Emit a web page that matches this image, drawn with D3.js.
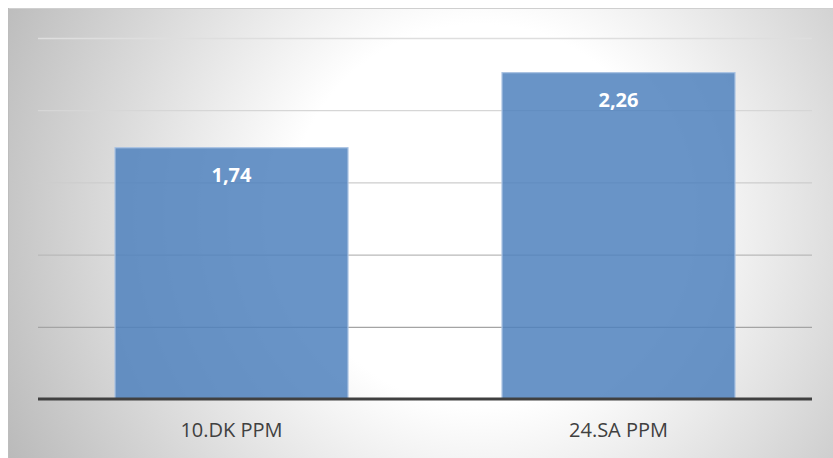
<!DOCTYPE html>
<html>
<head>
<meta charset="utf-8">
<script src="https://cdn.jsdelivr.net/npm/d3@7"></script>
<style>
  html, body { margin: 0; padding: 0; background: #ffffff; overflow: hidden; }
  svg { display: block; }
</style>
</head>
<body>
<svg id="chart" width="833" height="458"></svg>
<script>
// ---- data ----
const categories = ["10.DK PPM", "24.SA PPM"];
const values = [1.74, 2.26];
const valueLabels = ["1,74", "2,26"];
const gridTicks = [0.5, 1.0, 1.5, 2.0, 2.5];
const yDomain = [0, 2.5];

// ---- layout ----
const W = 833, H = 458;
const plot = { left: 38, right: 812, top: 38, bottom: 399 };

const svg = d3.select("#chart");
const defs = svg.append("defs");

// background radial gradient
const bg = defs.append("radialGradient")
  .attr("id", "bgGrad")
  .attr("gradientUnits", "userSpaceOnUse")
  .attr("cx", 480).attr("cy", 215).attr("r", 530);
bg.append("stop").attr("offset", 0).attr("stop-color", "#ffffff");
bg.append("stop").attr("offset", 0.36).attr("stop-color", "#ffffff");
bg.append("stop").attr("offset", 1).attr("stop-color", "#bababa");

// chart area background
svg.append("rect")
  .attr("x", 8).attr("y", 8)
  .attr("width", W).attr("height", H)
  .attr("fill", "url(#bgGrad)");
svg.append("line")
  .attr("x1", 8).attr("x2", W).attr("y1", 8.5).attr("y2", 8.5)
  .attr("stroke", "#cfcfcf").attr("stroke-width", 1);
svg.append("line")
  .attr("x1", 8.5).attr("x2", 8.5).attr("y1", 8).attr("y2", H)
  .attr("stroke", "#bdbdbd").attr("stroke-width", 1);

// scales
const x = d3.scaleBand()
  .domain(categories)
  .range([plot.left, plot.right])
  .paddingInner(0.398)
  .paddingOuter(0.199);

const y = d3.scaleLinear()
  .domain(yDomain)
  .range([plot.bottom, plot.top]);

// gridline colour: lighter near the top, darker near the bottom
const gridColor = d3.scaleLinear()
  .domain([0.5, 1.5, 2.5])
  .range(["#a4a4a4", "#cdcdcd", "#dedede"]);

// gridlines
const grid = svg.append("g")
  .attr("transform", `translate(${plot.left},0)`)
  .call(d3.axisLeft(y)
    .tickValues(gridTicks)
    .tickSize(-(plot.right - plot.left))
    .tickFormat(""));
grid.select(".domain").remove();
grid.selectAll(".tick line")
  .attr("stroke", d => gridColor(d))
  .attr("stroke-width", 1.3);

// bars
svg.append("g").selectAll("rect")
  .data(values)
  .join("rect")
  .attr("x", (d, i) => x(categories[i]))
  .attr("y", d => y(d))
  .attr("width", x.bandwidth())
  .attr("height", d => y(0) - y(d))
  .attr("fill", "#4f81bd")
  .attr("fill-opacity", 0.85)
  .attr("stroke", "#a9c2e2")
  .attr("stroke-width", 1.2);

// baseline axis
const xAxis = svg.append("g")
  .attr("transform", `translate(0,${plot.bottom})`)
  .call(d3.axisBottom(x).tickSize(0).tickPadding(0));
xAxis.select(".domain")
  .attr("stroke", "#404040")
  .attr("stroke-width", 3)
  .attr("d", `M${plot.left},0H${plot.right}`);
xAxis.selectAll(".tick text")
  .attr("dy", 0)
  .attr("y", 38)
  .attr("fill", "#404040")
  .style("font-family", "'Open Sans', sans-serif")
  .style("font-size", "20px")
  .attr("text-anchor", "middle")
  .attr("dominant-baseline", "alphabetic");

// value labels
svg.append("g").selectAll("text")
  .data(values)
  .join("text")
  .attr("x", (d, i) => x(categories[i]) + x.bandwidth() / 2)
  .attr("y", d => y(d) + 34)
  .attr("text-anchor", "middle")
  .attr("fill", "#ffffff")
  .style("font-family", "'Open Sans', sans-serif")
  .style("font-weight", "bold")
  .style("font-size", "20px")
  .text((d, i) => valueLabels[i]);
</script>
</body>
</html>
